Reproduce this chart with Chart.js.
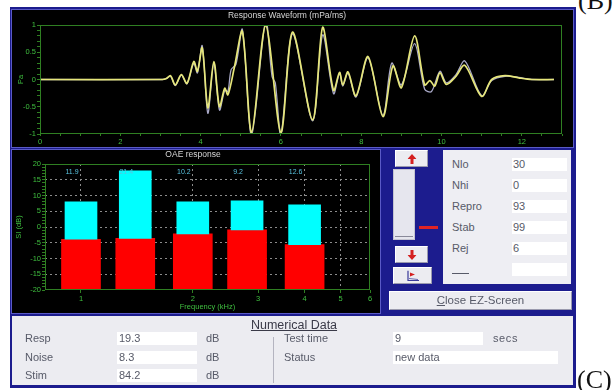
<!DOCTYPE html>
<html>
<head>
<meta charset="utf-8">
<script src="https://cdn.jsdelivr.net/npm/chart.js@4.4.0/dist/chart.umd.min.js"></script>
<style>
  html, body { margin: 0; padding: 0; background: #fff; width: 616px; height: 390px; overflow: hidden;
    font-family: "Liberation Sans", Arial, sans-serif; }
  .abs { position: absolute; }
  #frame { left: 10px; top: 7px; width: 566px; height: 381px; background: #1c1c8e; }
  .blackPanel { background: #000; box-shadow: 0 0 0 1px #5a5ac6; }
  #wavePanel { left: 12px; top: 10px; width: 561px; height: 137px; }
  #oaePanel { left: 12px; top: 150px; width: 368px; height: 163px; }
  .btn { background: #ececf1; border-top: 1px solid #fff; border-left: 1px solid #fff;
    border-right: 1px solid #9a9aae; border-bottom: 1px solid #9a9aae; box-sizing: border-box; }
  .btn svg { position: absolute; left: 50%; top: 50%; transform: translate(-50%, -50%); }
  #infoPanel { left: 443px; top: 150px; width: 128px; height: 134px; background: #eeeef3; }
  .lbl { color: #575a68; font-size: 11px; line-height: 13px; white-space: nowrap; }
  .box { background: #fff; height: 13px; }
  #numPanel { left: 12px; top: 316px; width: 561px; height: 69px; background: #ececf1; }
  #numTitle { left: 240px; top: 318px; width: 108px; text-align: center; font-size: 12.5px; color: #3a3a48;
    text-decoration: underline; line-height: 15px; }
  .serifTag { font-family: "Liberation Serif", "DejaVu Serif", serif; font-size: 26px; color: #111; line-height: 26px; }
</style>
</head>
<body>
<div id="frame" class="abs"></div>

<div id="wavePanel" class="abs blackPanel"><canvas id="waveChart" width="561" height="137"></canvas></div>
<div id="oaePanel" class="abs blackPanel"><canvas id="oaeChart" width="368" height="163"></canvas></div>

<!-- scroll controls -->
<div class="abs btn" style="left:395px;top:150px;width:33px;height:17px;">
  <svg width="9" height="10" viewBox="0 0 9 10"><path d="M4.5 0 L9 5 H6 V10 H3 V5 H0 Z" fill="#d42020"/></svg>
</div>
<div class="abs" style="left:393px;top:169px;width:22px;height:71px;background:#e6e6ee;border:1px solid #c4c4d0;box-sizing:border-box;"></div>
<div class="abs" style="left:395px;top:236px;width:18px;height:1px;background:#8a8a9a;"></div>
<div class="abs" style="left:419px;top:226px;width:19px;height:3px;background:#e02424;"></div>
<div class="abs btn" style="left:395px;top:246px;width:33px;height:17px;">
  <svg width="9" height="10" viewBox="0 0 9 10"><path d="M4.5 10 L9 5 H6 V0 H3 V5 H0 Z" fill="#d42020"/></svg>
</div>
<div class="abs btn" style="left:393px;top:267px;width:39px;height:17px;">
  <svg width="14" height="11" viewBox="0 0 14 11"><path d="M2 0 V10 H13" stroke="#3a3a9a" fill="none" stroke-width="1.2"/><path d="M4 2 L9 4 L4 6 Z" fill="#d42020"/><path d="M3 8 L12 9" stroke="#6a6ab0" stroke-width="1"/></svg>
</div>

<!-- counters panel -->
<div id="infoPanel" class="abs"></div>
<div class="abs lbl" style="left:452px;top:158px;">Nlo</div>
<div class="abs lbl" style="left:452px;top:179px;">Nhi</div>
<div class="abs lbl" style="left:452px;top:200px;">Repro</div>
<div class="abs lbl" style="left:452px;top:221px;">Stab</div>
<div class="abs lbl" style="left:452px;top:242px;">Rej</div>
<div class="abs" style="left:452px;top:273px;width:17px;height:1px;background:#575a68;"></div>
<div class="abs box" style="left:512px;top:158px;width:55px;"></div>
<div class="abs box" style="left:512px;top:179px;width:55px;"></div>
<div class="abs box" style="left:512px;top:200px;width:55px;"></div>
<div class="abs box" style="left:512px;top:221px;width:55px;"></div>
<div class="abs box" style="left:512px;top:242px;width:55px;"></div>
<div class="abs box" style="left:512px;top:263px;width:55px;"></div>
<div class="abs lbl" style="left:513px;top:158px;">30</div>
<div class="abs lbl" style="left:513px;top:179px;">0</div>
<div class="abs lbl" style="left:513px;top:200px;">93</div>
<div class="abs lbl" style="left:513px;top:221px;">99</div>
<div class="abs lbl" style="left:513px;top:242px;">6</div>

<div class="abs btn" style="left:389px;top:291px;width:183px;height:19px;"></div>
<div class="abs lbl" style="left:389px;top:294px;width:183px;text-align:center;font-size:11.5px;"><u>C</u>lose EZ-Screen</div>

<!-- numerical data panel -->
<div id="numPanel" class="abs"></div>
<div id="numTitle" class="abs">Numerical Data</div>
<div class="abs lbl" style="left:25px;top:332px;">Resp</div>
<div class="abs lbl" style="left:25px;top:351px;">Noise</div>
<div class="abs lbl" style="left:25px;top:369px;">Stim</div>
<div class="abs box" style="left:117px;top:332px;width:80px;"></div>
<div class="abs box" style="left:117px;top:351px;width:80px;"></div>
<div class="abs box" style="left:117px;top:369px;width:80px;"></div>
<div class="abs lbl" style="left:119px;top:332px;">19.3</div>
<div class="abs lbl" style="left:119px;top:351px;">8.3</div>
<div class="abs lbl" style="left:119px;top:369px;">84.2</div>
<div class="abs lbl" style="left:206px;top:332px;">dB</div>
<div class="abs lbl" style="left:206px;top:351px;">dB</div>
<div class="abs lbl" style="left:206px;top:369px;">dB</div>
<div class="abs" style="left:273px;top:337px;width:1px;height:46px;background:#b4b4c0;"></div>
<div class="abs lbl" style="left:284px;top:332px;">Test time</div>
<div class="abs lbl" style="left:284px;top:351px;">Status</div>
<div class="abs box" style="left:393px;top:332px;width:90px;"></div>
<div class="abs box" style="left:393px;top:351px;width:165px;"></div>
<div class="abs lbl" style="left:395px;top:332px;">9</div>
<div class="abs lbl" style="left:395px;top:351px;">new data</div>
<div class="abs lbl" style="left:493px;top:332px;letter-spacing:0.6px;">secs</div>

<div class="abs serifTag" style="left:578px;top:-12px;">(B)</div>
<div class="abs serifTag" style="left:577px;top:367px;">(C)</div>

<script>
// ---- Response waveform: two averaged buffers (time in ms, pressure) ----
const waveTimeA = [0, 3.05, 3.15, 3.25, 3.37, 3.52, 3.66, 3.83, 3.92, 4.04,
  4.18, 4.33, 4.47, 4.6, 4.68, 4.84, 5.04, 5.27, 5.62, 6.0,
  6.29, 6.79, 7.04, 7.31, 7.46, 7.54, 7.67, 7.87, 8.17, 8.54,
  8.79, 9.0, 9.33, 9.58, 9.71, 9.83, 9.96, 10.12, 10.35, 10.58,
  11.0, 11.25, 11.58, 11.92, 12.25, 12.8];
const waveA = [0, 0, 0.02, 0.07, -0.10, 0.09, -0.07, 0.33, 0.15, 0.58,
  -0.52, 0.33, -0.50, -0.16, -0.28, 0.22, 0.88, -0.97, 0.99, -0.97,
  0.87, -0.74, 0.96, -0.20, 0.13, -0.10, 0.14, -0.30, 0.42, -0.68,
  0.25, -0.15, 0.80, -0.10, -0.02, -0.12, 0.12, -0.09, 0.05, 0.26,
  -0.31, 0.0, 0.07, 0.03, 0, 0];
const waveTimeB = [0, 3.05, 3.15, 3.25, 3.37, 3.52, 3.66, 3.83, 3.92, 4.04,
  4.18, 4.33, 4.47, 4.6, 4.68, 4.76, 4.88, 5.04, 5.27, 5.62,
  5.78, 5.86, 6.0, 6.29, 6.79, 7.04, 7.31, 7.46, 7.54, 7.67,
  7.87, 8.17, 8.54, 8.76, 9.0, 9.33, 9.58, 9.75, 9.96, 10.12,
  10.35, 10.58, 11.0, 11.25, 11.58, 11.92, 12.25, 12.8];
const waveB = [0, 0, 0.02, 0.06, -0.11, 0.08, -0.08, 0.30, 0.12, 0.62,
  -0.62, 0.30, -0.56, -0.20, -0.22, 0.18, 0.28, 0.92, -1.02, 1.08,
  0.05, -0.06, -1.02, 0.84, -0.76, 0.82, -0.26, 0.12, -0.12, 0.12,
  -0.32, 0.40, -0.66, 0.30, -0.10, 0.66, -0.18, -0.22, 0.15, -0.06,
  0.08, 0.34, -0.30, -0.02, 0.06, 0.04, 0, 0];
const waveXLabels = [0, 2, 4, 6, 8, 10, 12];
const waveYLabels = [1, 0.5, 0, -0.5, -1];

// ---- OAE response: per-frequency noise floor and signal-to-noise (dB) ----
const oaeFreq = [1.0, 1.4, 2.0, 2.8, 4.0];
const oaeNoise = [-3.9, -3.6, -2.2, -0.9, -5.6];
const oaeSnr = [11.9, 21.4, 10.2, 9.2, 12.6];
const oaeFloor = -20;
const oaeFreqTicks = [1, 2, 3, 4, 5, 6];
const oaeYLabels = [20, 15, 10, 5, 0, -5, -10, -15, -20];

const GREEN_LINE = '#2f7f22';
const GREEN_TEXT = '#3fbf3f';
const near = (arr, v) => arr.find(l => Math.abs(l - v) < 1e-6);

Chart.defaults.font.family = '"Liberation Sans", Arial, sans-serif';
Chart.defaults.animation = false;

// frame round the plot area plus the panel caption
const panelDecor = {
  id: 'panelDecor',
  afterDraw(chart, args, opts) {
    const { ctx, chartArea: a } = chart;
    ctx.save();
    ctx.strokeStyle = GREEN_LINE;
    ctx.lineWidth = 1;
    ctx.strokeRect(Math.round(a.left) + 0.5, Math.round(a.top) + 0.5,
      Math.round(a.right - a.left) - 1, Math.round(a.bottom - a.top) - 1);
    ctx.fillStyle = '#d6d6d6';
    ctx.font = '8.5px "Liberation Sans", Arial, sans-serif';
    ctx.textAlign = 'center';
    ctx.textBaseline = 'middle';
    ctx.fillText(opts.text, opts.x, opts.y);
    ctx.restore();
  }
};

// SNR value printed near the top of each frequency column
const snrLabels = {
  id: 'snrLabels',
  afterDatasetsDraw(chart) {
    const { ctx, chartArea: a, scales } = chart;
    ctx.save();
    ctx.fillStyle = '#58c4e0';
    ctx.font = '7px "Liberation Sans", Arial, sans-serif';
    ctx.textAlign = 'center';
    ctx.textBaseline = 'middle';
    oaeFreq.forEach((f, i) => {
      ctx.fillText(oaeSnr[i].toFixed(1), scales.x.getPixelForValue(f) - 9, a.top + 8);
    });
    ctx.restore();
  }
};

new Chart(document.getElementById('waveChart'), {
  type: 'line',
  data: {
    datasets: [
      { data: waveTimeA.map((t, i) => ({ x: t, y: waveA[i] })), borderColor: '#e6e67a', borderWidth: 1.7,
        pointRadius: 0, tension: 0.3 },
      { data: waveTimeB.map((t, i) => ({ x: t, y: waveB[i] })), borderColor: '#a9a9c8', borderWidth: 1.3,
        pointRadius: 0, tension: 0.3 }
    ]
  },
  options: {
    responsive: false,
    layout: { padding: { top: 15, right: 11, left: 0, bottom: 0 } },
    plugins: {
      legend: { display: false }, tooltip: { enabled: false },
      panelDecor: { text: 'Response Waveform (mPa/ms)', x: 275, y: 6 }
    },
    scales: {
      x: {
        type: 'linear', min: 0, max: 13,
        afterFit: s => { s.height = 13; },
        grid: { drawOnChartArea: false, color: GREEN_LINE, tickLength: 2 },
        border: { display: false },
        ticks: { stepSize: 0.5, autoSkip: false, maxRotation: 0, padding: 1, color: GREEN_TEXT,
          font: { size: 7.5 }, callback: v => { const m = near(waveXLabels, v); return m === undefined ? '' : String(m); } }
      },
      y: {
        min: -1, max: 1,
        afterFit: s => { s.width = 28; },
        grid: { drawOnChartArea: false, color: GREEN_LINE, tickLength: 3 },
        border: { display: false },
        title: { display: true, text: 'Pa', color: GREEN_TEXT, font: { size: 7.5 }, padding: 4 },
        ticks: { stepSize: 0.1, autoSkip: false, padding: 1, color: GREEN_TEXT, font: { size: 7.5 },
          callback: v => { const m = near(waveYLabels, v); return m === undefined ? '' : String(m); } }
      }
    }
  },
  plugins: [panelDecor]
});

new Chart(document.getElementById('oaeChart'), {
  type: 'bar',
  data: {
    datasets: [
      { data: oaeFreq.map((f, i) => ({ x: f, y: [oaeNoise[i], oaeNoise[i] + oaeSnr[i]] })),
        backgroundColor: '#00ffff', barThickness: 32, grouped: false },
      { data: oaeFreq.map((f, i) => ({ x: f, y: [oaeFloor, oaeNoise[i]] })),
        backgroundColor: '#ff0000', barThickness: 39, grouped: false }
    ]
  },
  options: {
    responsive: false,
    layout: { padding: { top: 14, right: 10, left: 0, bottom: 0 } },
    plugins: {
      legend: { display: false }, tooltip: { enabled: false },
      panelDecor: { text: 'OAE response', x: 181, y: 5 }
    },
    scales: {
      x: {
        type: 'logarithmic', min: 0.8, max: 6, offset: false,
        afterBuildTicks: s => { s.ticks = oaeFreqTicks.map(v => ({ value: v })); },
        afterFit: s => { s.height = 23; },
        grid: { offset: false, color: c => (c.tick && c.tick.value < 6) ? '#8c8c8c' : 'rgba(0,0,0,0)',
          tickColor: GREEN_LINE, tickLength: 3 },
        border: { display: false, dash: [2, 3] },
        title: { display: true, text: 'Frequency (kHz)', color: GREEN_TEXT, font: { size: 7.5 }, padding: 2 },
        ticks: { autoSkip: false, maxRotation: 0, padding: 1, color: GREEN_TEXT, font: { size: 7.5 },
          callback: v => String(v) }
      },
      y: {
        min: -20, max: 20,
        afterFit: s => { s.width = 33; },
        grid: { color: c => (c.tick && Math.abs(c.tick.value) < 20 && c.tick.value % 5 === 0) ? '#8c8c8c' : 'rgba(0,0,0,0)',
          tickColor: GREEN_LINE, tickLength: 3 },
        border: { display: false, dash: [2, 3] },
        title: { display: true, text: 'SI (dB)', color: GREEN_TEXT, font: { size: 7.5 }, padding: 2 },
        ticks: { stepSize: 1, autoSkip: false, padding: 1, color: GREEN_TEXT, font: { size: 7.5 },
          callback: v => { const m = near(oaeYLabels, v); return m === undefined ? '' : String(m); } }
      }
    }
  },
  plugins: [panelDecor, snrLabels]
});
</script>
</body>
</html>
